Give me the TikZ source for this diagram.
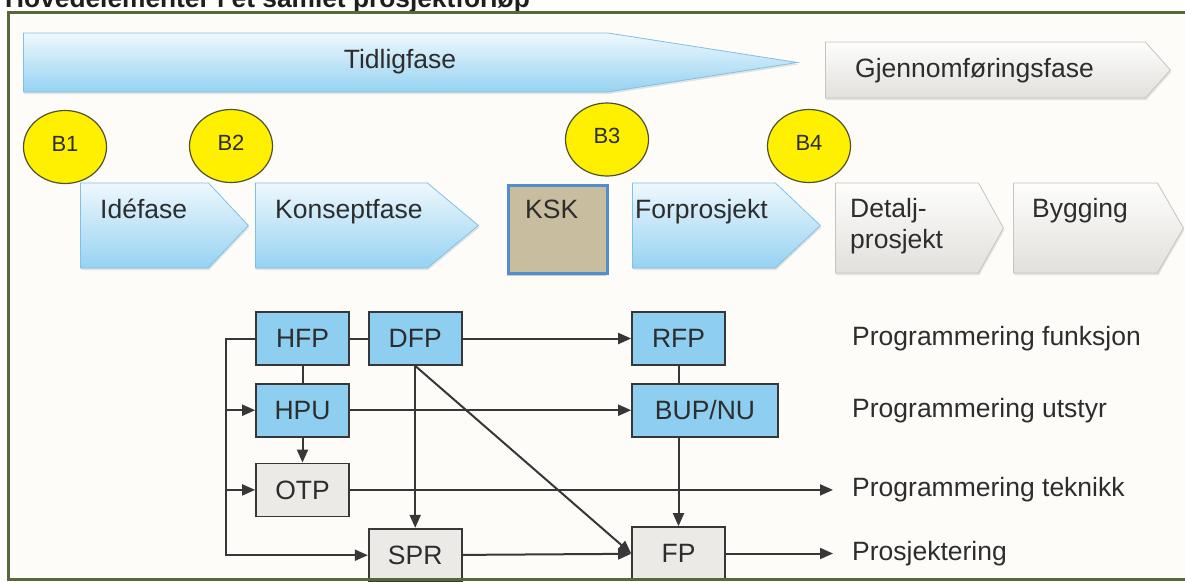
\documentclass[tikz,border=0pt]{standalone}
\usepackage{fontspec}
\setmainfont{Liberation Sans}
\usetikzlibrary{positioning, shapes.geometric, shapes.symbols, arrows.meta, shadows}
\definecolor{framegreen}{RGB}{88,104,56}
\definecolor{paper}{RGB}{253,252,249}
\definecolor{phasetop}{RGB}{238,248,253}
\definecolor{phasebottom}{RGB}{150,210,242}
\definecolor{phaseline}{RGB}{128,192,230}
\definecolor{greytop}{RGB}{253,253,252}
\definecolor{greybottom}{RGB}{226,224,220}
\definecolor{greyline}{RGB}{198,196,192}
\definecolor{boxblue}{RGB}{142,206,240}
\definecolor{boxgrey}{RGB}{236,234,230}
\definecolor{linegrey}{RGB}{55,55,55}
\definecolor{textgrey}{RGB}{45,45,45}
\definecolor{titleblack}{RGB}{30,30,30}
\definecolor{milestoneline}{RGB}{80,80,50}
\definecolor{milestoneyellow}{RGB}{255,240,0}
\definecolor{kskfill}{RGB}{200,189,158}
\definecolor{kskline}{RGB}{82,142,204}
\tikzset{
	every text node part/.style= {
		align=left
	},
	phase/.style= {
		signal, signal to=east, signal from=nowhere,
		anchor=west, inner sep=0pt, line width=0.8pt,
		drop shadow={shadow xshift=1pt, shadow yshift=-2pt, opacity=0.2}
	},
	bluephase/.style= {
		phase, draw=phaseline, top color=phasetop, bottom color=phasebottom
	},
	greyphase/.style= {
		phase, draw=greyline, top color=greytop, bottom color=greybottom
	},
	phasetext/.style= {
		anchor=base west, inner sep=0pt, text=textgrey,
		font=\fontsize{26.5}{31}\selectfont
	},
	milestone/.style= {
		ellipse, draw=milestoneline, line width=1.2pt, fill=milestoneyellow,
		minimum width=83pt, minimum height=73pt, inner sep=0pt, text depth=7pt,
		text=textgrey, font=\fontsize{22}{25}\selectfont
	},
	progbox/.style= {
		rectangle, draw=linegrey, line width=1.7pt, minimum width=93pt,
		minimum height=53pt, inner sep=0pt, text=textgrey,
		font=\fontsize{26.5}{31}\selectfont
	},
	bluebox/.style= {
		progbox, fill=boxblue
	},
	greybox/.style= {
		progbox, fill=boxgrey
	},
	rowlabel/.style= {
		anchor=west, inner xsep=19pt, inner ysep=0pt, text=textgrey,
		font=\fontsize{26.5}{31}\selectfont
	},
	link/.style= {
		draw=linegrey, line width=2pt
	},
	flow/.style= {
		link, -{Triangle[length=13pt, width=11pt]}
	}
}

\begin{document}
\begin{tikzpicture}[x=1pt, y=-1pt]

	\useasboundingbox (0,0) rectangle (1185,581);
	\fill[white] (0,0) rectangle (1185,581);
	\fill[paper] (8.5,12.5) rectangle (1195,579.5);

	\node (title)[anchor=base west, inner sep=0pt, text=titleblack,
		font=\bfseries\fontsize{26.3}{30}\selectfont] at (5,7) {Hovedelementer i et samlet prosjektforløp};

	% phases
	\node (tidlig)[bluephase, minimum width=774pt, minimum height=59pt, signal pointer angle=17.7] at (23,62.5) {};
	\node (gjennom)[greyphase, minimum width=345pt, minimum height=56pt, signal pointer angle=96.5] at (825,70) {};
	\node (tidligtext)[phasetext, anchor=base] at (400,68) {Tidligfase};
	\node (gjennomtext)[phasetext] at (855,77) {Gjennomføringsfase};

	\node (idefase)[bluephase, minimum width=168pt, minimum height=85pt, signal pointer angle=93.5] at (80,225.5) {};
	\node (konsept)[bluephase, minimum width=223pt, minimum height=85pt, signal pointer angle=79.6] at (255,225.5) {};
	\node (KSK)[draw=kskline, line width=3pt, fill=kskfill, minimum width=99pt, minimum height=88pt,
		anchor=north west, drop shadow={shadow xshift=-1.5pt, shadow yshift=-2.5pt, opacity=0.4}] at (506.5,183.5) {};
	\node (forprosj)[bluephase, minimum width=188pt, minimum height=85pt, signal pointer angle=86.7] at (632,225.5) {};
	\node (detalj)[greyphase, minimum width=168pt, minimum height=90pt, signal pointer angle=122] at (835,228) {};
	\node (bygging)[greyphase, minimum width=170pt, minimum height=90pt, signal pointer angle=120] at (1013,228) {};

	\node (idefasetext)[phasetext] at (100,218) {Idéfase};
	\node (konsepttext)[phasetext] at (275,218) {Konseptfase};
	\node (KSKtext)[phasetext] at (525,218) {KSK};
	\node (forprosjtext)[phasetext] at (635,218) {Forprosjekt};
	\node (detaljtext)[phasetext] at (850,248) {Detalj-\\prosjekt};
	\node (byggingtext)[phasetext] at (1032,217) {Bygging};

	% decision points
	\foreach[count=\i from 1] \mx/\my in {65/147, 231/146, 607/139.5, 809/146}
	{
		\node (B\i)[milestone] at (\mx,\my) {B\i};
	}

	% programming and design
	\node (HFP)[bluebox] at (302.5,338.5) {HFP};
	\node (DFP)[bluebox, right=18pt of HFP] {DFP};
	\node (HPU)[bluebox, below=17pt of HFP] {HPU};
	\node (OTP)[greybox, below=25pt of HPU] {OTP};
	\node (SPR)[greybox, below=162pt of DFP] {SPR};
	\node (RFP)[bluebox] at (678.5,338.5) {RFP};
	\node (BUPNU)[bluebox, minimum width=146pt, below=17pt of RFP.south west, anchor=north west] {BUP/NU};
	\node (FP)[greybox] at (678.5,553.5) {FP};

	\coordinate (bus) at (226,0);
	\coordinate (labelx) at (833,0);

	\foreach[count=\i from 1] \row/\text in {HFP/Programmering funksjon, HPU/Programmering utstyr, OTP/Programmering teknikk, FP/Prosjektering}
	{
		\node (label\i)[rowlabel] at (labelx |- \row) {\text};
	}

	\draw[link] (HFP) to (DFP);
	\draw[link] (HFP) to (HPU);
	\draw[flow] (HPU) to (OTP);
	\draw[flow] (DFP) to (RFP);
	\draw[link] (RFP) to (RFP |- BUPNU.north);
	\draw[flow] (HPU) to (BUPNU);
	\draw[flow] (BUPNU.south -| FP) to (FP);
	\draw[flow] (DFP) to (SPR);
	\draw[flow] (DFP.south) to (FP.west);
	\draw[flow] (SPR) to (FP);
	\draw[flow] (OTP) to (label3);
	\draw[flow] (FP) to (label4);
	\draw[flow] (HFP.west) -- (HFP.west -| bus) |- (SPR);
	\draw[flow] (HPU -| bus) to (HPU);
	\draw[flow] (OTP -| bus) to (OTP);

	\draw[framegreen, line width=3pt] (1195,12.5) -- (8.5,12.5) -- (8.5,579.5) -- (1195,579.5);

\end{tikzpicture}
\end{document}
